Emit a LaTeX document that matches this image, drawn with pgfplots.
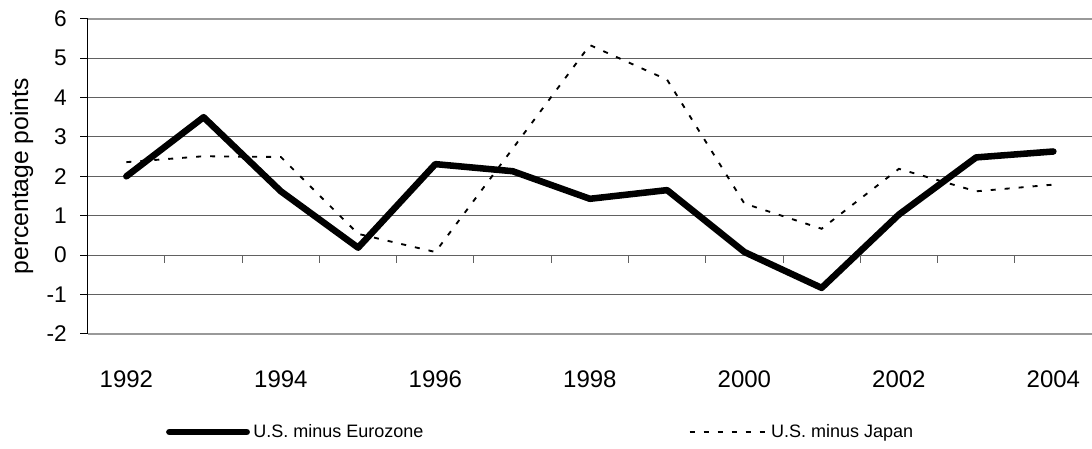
\documentclass[border=0pt]{standalone}
\usepackage{fontspec}
\setmainfont{Liberation Sans}
\usepackage{pgfplots}
\usepackage{pgfplotstable}
\pgfplotsset{compat=1.18}

\pgfplotstableread{
x eu jp
0 2.00 2.36
1 3.50 2.51
2 1.62 2.49
3 0.19 0.54
4 2.31 0.08
5 2.13 2.70
6 1.43 5.33
7 1.65 4.45
8 0.08 1.31
9 -0.83 0.67
10 1.03 2.19
11 2.48 1.62
12 2.63 1.79
}\data

\begin{document}
\begin{tikzpicture}
\path[use as bounding box] (0pt,0pt) rectangle (819pt,336.75pt);
\begin{axis}[
  at={(65.8pt,86.25pt)}, anchor=south west,
  scale only axis, width=753.2pt, height=236.5pt,
  xmin=-0.5, xmax=12.5, ymin=-2, ymax=6,
  clip=false,
  axis line style={draw=none},
  xtick={0,2,4,6,8,10,12},
  xticklabels={1992,1994,1996,1998,2000,2002,2004},
  xtick style={draw=none},
  ytick={-2,-1,0,1,2,3,4,5,6},
  yticklabels={-2,-1,0,1,2,3,4,5,6},
  ytick pos=left,
  tick align=outside,
  major tick length=5.8pt,
  ytick style={black, line width=0.75pt},
  ymajorgrids,
  major grid style={color=black!62, line width=0.75pt},
  xticklabel style={font=\fontsize{18}{20}\selectfont, anchor=north, inner sep=0pt, yshift=-21.75pt},
  yticklabel style={font=\fontsize{17}{19}\selectfont, anchor=east, inner sep=0pt, xshift=-9.7pt},
  ylabel={percentage points},
  ylabel style={font=\fontsize{18.5}{20}\selectfont, at={(axis description cs:-0.0657,0.5)}, anchor=center},
  legend columns=2,
  legend image code/.code={\path (0pt,0pt) (63pt,0pt); \draw[#1] (2.5pt,0pt) -- (60.5pt,0pt);},
  legend cell align=left,
  legend style={at={(axis description cs:0.0747,-0.3108)}, anchor=west, draw=none, fill=none,
    inner sep=0pt, outer sep=0pt, font=\fontsize{13.5}{15}\selectfont,
    nodes={inner sep=0pt},
    /tikz/every even column/.append style={column sep=2.25pt},
    /tikz/every odd column/.append style={column sep=0pt}},
]
\addplot[black, line width=4.9pt, line cap=round, line join=round] table[x=x, y=eu] {\data};
\addlegendentry{\makebox[321.75pt][l]{U.S. minus Eurozone}}
\addplot[black, line width=1.4pt, dash pattern=on 3.75pt off 6.75pt] table[x=x, y=jp] {\data};
\addlegendentry{U.S. minus Japan}
\pgfplotsinvokeforeach{0.5,1.5,2.5,3.5,4.5,5.5,6.5,7.5,8.5,9.5,10.5,11.5}{
  \draw[black!62, line width=0.75pt] (axis cs:#1,0) -- ++(0pt,-5.8pt);
}
\draw[black!40, line width=1.5pt] (axis description cs:0,1) -- (axis description cs:1,1);
\draw[black!40, line width=1.5pt] (axis description cs:0,0) -- (axis description cs:1,0);
\draw[black, line width=0.9pt] (axis description cs:0,0) -- (axis description cs:0,1);
\end{axis}
\end{tikzpicture}
\end{document}
